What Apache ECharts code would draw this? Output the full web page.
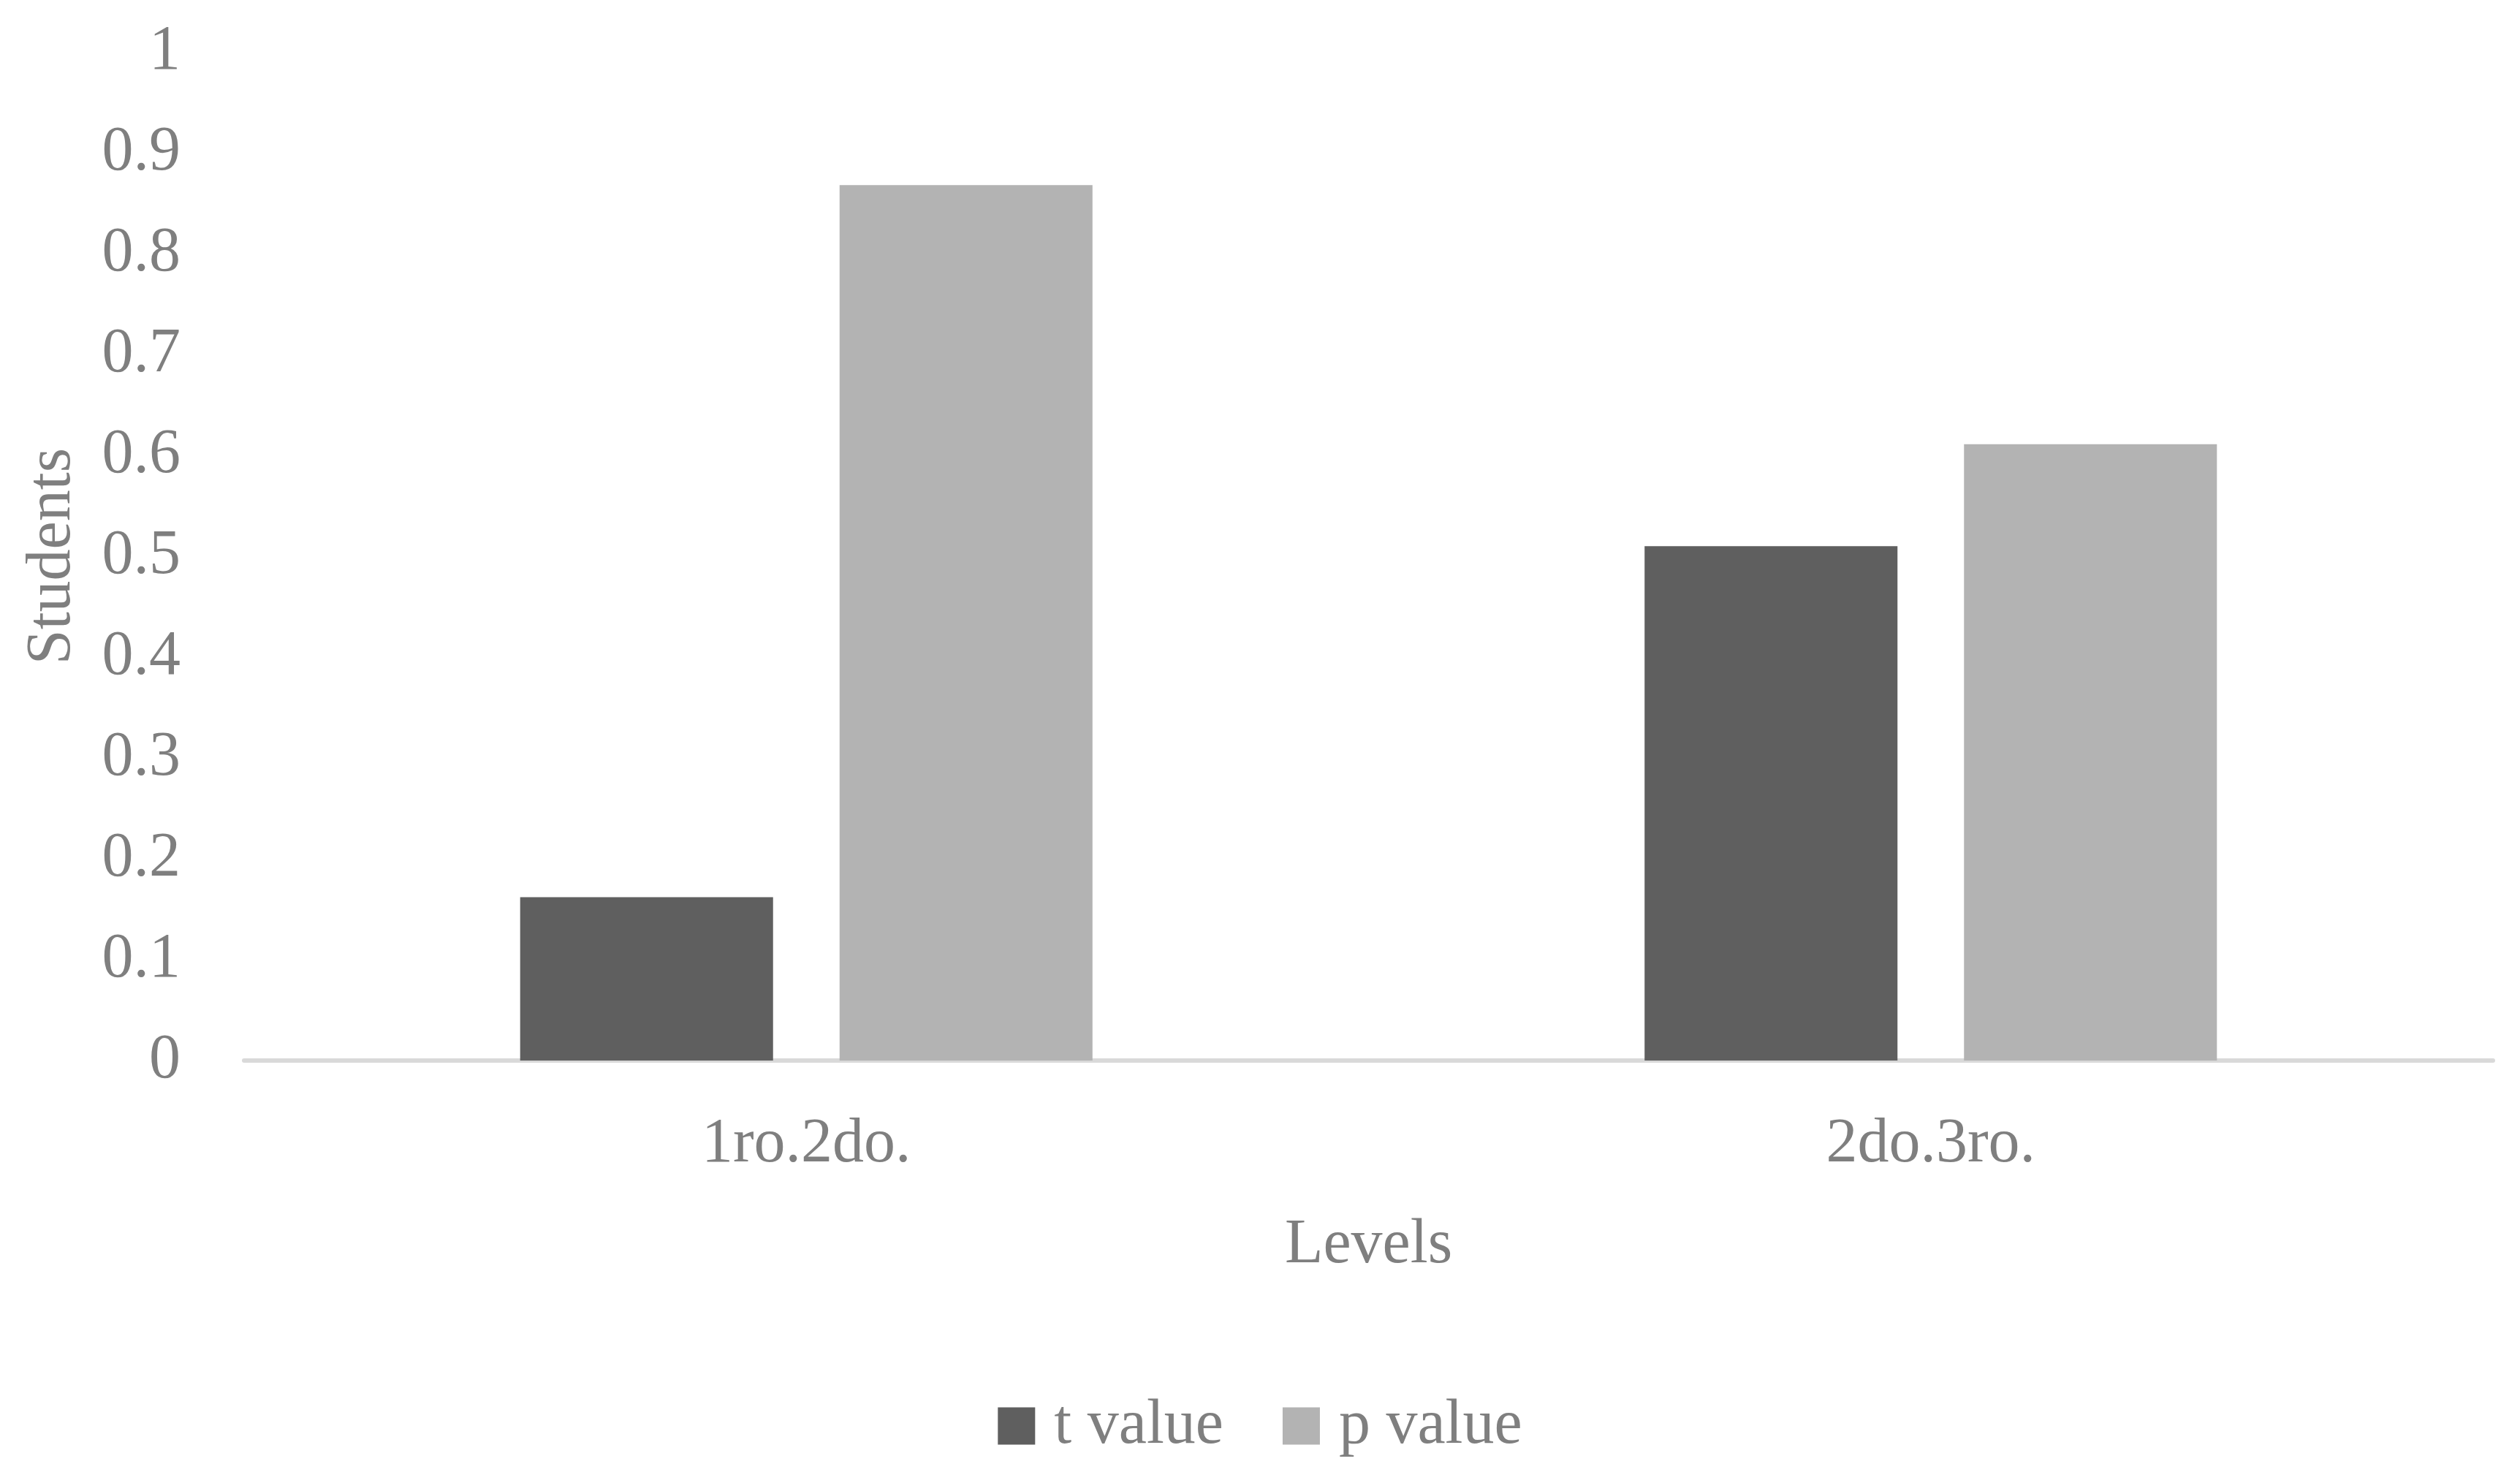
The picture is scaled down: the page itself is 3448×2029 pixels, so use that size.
<!DOCTYPE html>
<html>
<head>
<meta charset="utf-8">
<script src="https://cdn.jsdelivr.net/npm/echarts@6/dist/echarts.min.js"></script>
<style>
  html, body { margin: 0; padding: 0; background: #ffffff; }
  #chart { width: 3448px; height: 2029px; }
</style>
</head>
<body>
<div id="chart"></div>
<script>
const categories = ['1ro.2do.', '2do.3ro.'];
const tValues = [0.162, 0.510];
const pValues = [0.868, 0.611];
const seriesNames = ['t value', 'p value'];
const xAxisTitle = 'Levels';
const yAxisTitle = 'Students';

const FONT = "'Liberation Serif', serif";
const TEXT = '#7f7f7f';

const chart = echarts.init(document.getElementById('chart'), null, { renderer: 'canvas' });
chart.setOption({
  backgroundColor: '#ffffff',
  animation: false,
  textStyle: { fontFamily: FONT },
  grid: { left: 334, right: 37, top: 71, bottom: 578, containLabel: false },
  legend: {
    data: seriesNames,
    top: 1903,
    left: 'center',
    itemWidth: 51,
    itemHeight: 51,
    itemGap: 81,
    icon: 'rect',
    textStyle: { fontFamily: FONT, fontSize: 86, color: TEXT, padding: [0, 0, 0, 21] }
  },
  xAxis: {
    type: 'category',
    data: categories,
    name: xAxisTitle,
    nameLocation: 'middle',
    nameGap: 210,
    nameTextStyle: { fontFamily: FONT, fontSize: 86, color: TEXT },
    axisLine: { show: true, lineStyle: { color: '#d9d9d9', width: 6 } },
    axisTick: { show: false },
    axisLabel: { fontFamily: FONT, fontSize: 86, color: TEXT, margin: 72 },
    splitLine: { show: false }
  },
  yAxis: {
    type: 'value',
    min: 0,
    max: 1,
    interval: 0.1,
    name: yAxisTitle,
    nameLocation: 'middle',
    nameGap: 219,
    nameRotate: 90,
    nameTextStyle: { fontFamily: FONT, fontSize: 86, color: TEXT },
    axisLine: { show: false },
    axisTick: { show: false },
    axisLabel: { fontFamily: FONT, fontSize: 86, color: TEXT, margin: 87 },
    splitLine: { show: false }
  },
  series: [
    {
      name: seriesNames[0],
      type: 'bar',
      data: tValues,
      itemStyle: { color: '#5f5f5f' },
      barGap: '26.3%',
      barCategoryGap: '49.1%'
    },
    {
      name: seriesNames[1],
      type: 'bar',
      data: pValues,
      itemStyle: { color: '#b3b3b3' },
      barGap: '26.3%',
      barCategoryGap: '49.1%'
    }
  ]
});
</script>
</body>
</html>
